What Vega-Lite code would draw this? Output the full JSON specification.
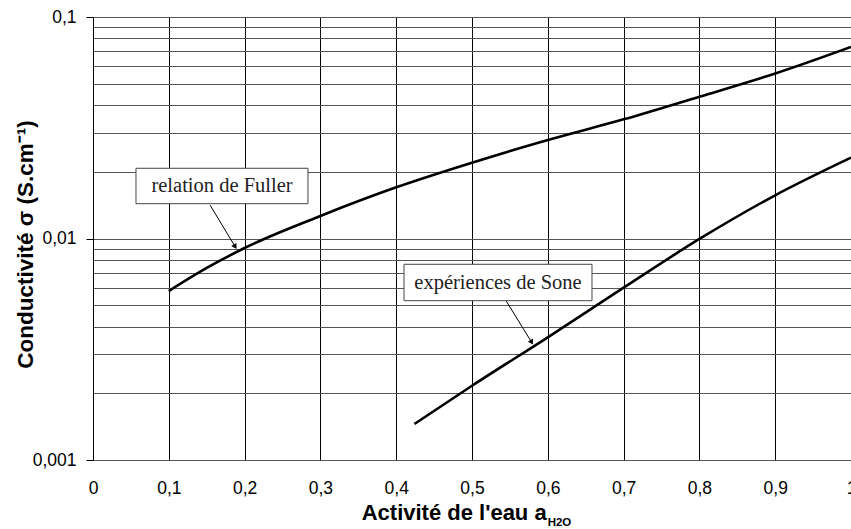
{
  "$schema": "https://vega.github.io/schema/vega-lite/v6.json",
  "width": 758,
  "height": 443,
  "autosize": {"type": "none"},
  "padding": {"left": 93, "top": 17, "right": 0, "bottom": 69},
  "background": "white",
  "config": {
    "view": {"stroke": null},
    "font": "Liberation Sans"
  },
  "datasets": {
    "curves": [
      {"series": "Fuller", "x": 0.1, "y": 0.00579},
      {"series": "Fuller", "x": 0.15, "y": 0.00736},
      {"series": "Fuller", "x": 0.2, "y": 0.00906},
      {"series": "Fuller", "x": 0.3, "y": 0.01264},
      {"series": "Fuller", "x": 0.4, "y": 0.01702},
      {"series": "Fuller", "x": 0.5, "y": 0.02199},
      {"series": "Fuller", "x": 0.6, "y": 0.02784},
      {"series": "Fuller", "x": 0.7, "y": 0.0345},
      {"series": "Fuller", "x": 0.8, "y": 0.04367},
      {"series": "Fuller", "x": 0.9, "y": 0.0556},
      {"series": "Fuller", "x": 1.0, "y": 0.0733},
      {"series": "Sone", "x": 0.424, "y": 0.001454},
      {"series": "Sone", "x": 0.5, "y": 0.002164},
      {"series": "Sone", "x": 0.6, "y": 0.003581},
      {"series": "Sone", "x": 0.7, "y": 0.005996},
      {"series": "Sone", "x": 0.8, "y": 0.00995},
      {"series": "Sone", "x": 0.9, "y": 0.01567},
      {"series": "Sone", "x": 1.0, "y": 0.02317}
    ],
    "notes": [
      {"label": "relation de Fuller", "x": 0.0567, "xe": 0.2836, "y": 0.01436, "ye": 0.02075, "tx": 0.1702, "ty": 0.01726, "ax": 0.1544, "ay": 0.01416, "bx": 0.1876, "by": 0.00918, "angle": 148.9},
      {"label": "expériences de Sone", "x": 0.4103, "xe": 0.6583, "y": 0.005238, "ye": 0.007648, "tx": 0.5343, "ty": 0.006328, "ax": 0.5449, "ay": 0.005238, "bx": 0.5788, "by": 0.003396, "angle": 148.4}
    ],
    "xtitle": [
      {"main": "Activité de l'eau a", "sub": "H2O", "x": 0.5985, "y": 0.001}
    ]
  },
  "layer": [
    {
      "data": {"name": "curves"},
      "mark": {"type": "line", "color": "black", "strokeWidth": 2.6, "interpolate": "monotone"},
      "encoding": {
        "x": {
          "field": "x", "type": "quantitative",
          "scale": {"domain": [0, 1], "nice": false, "zero": false},
          "axis": {
            "title": null,
            "values": [0, 0.1, 0.2, 0.3, 0.4, 0.5, 0.6, 0.7, 0.8, 0.9, 1],
            "labelExpr": "replace(format(datum.value, '.1~f'), '.', ',')",
            "grid": true, "gridColor": "black", "gridWidth": 1, "gridOpacity": 1,
            "ticks": false,
            "domain": true, "domainColor": "#555", "domainWidth": 1,
            "labelFont": "Liberation Sans", "labelFontSize": 17.5, "labelColor": "black",
            "labelPadding": 28, "labelBaseline": "middle", "labelFlush": false, "labelOverlap": false
          }
        },
        "y": {
          "field": "y", "type": "quantitative",
          "scale": {"type": "log", "domain": [0.001, 0.1], "nice": false},
          "axis": {
            "title": "Conductivité σ (S.cm⁻¹)",
            "titleFont": "Liberation Sans", "titleFontSize": 22.5, "titleFontWeight": "bold", "titleColor": "black",
            "titleAngle": -90, "titleBaseline": "middle", "titleAlign": "center",
            "titleX": -68, "titleY": 227,
            "values": [0.001, 0.002, 0.003, 0.004, 0.005, 0.006, 0.007, 0.008, 0.009, 0.01, 0.02, 0.03, 0.04, 0.05, 0.06, 0.07, 0.08, 0.09, 0.1],
            "labelExpr": "datum.value == 0.1 ? '0,1' : (datum.value == 0.01 ? '0,01' : (datum.value == 0.001 ? '0,001' : ''))",
            "grid": true, "gridColor": "#555", "gridWidth": 1, "gridOpacity": 1,
            "ticks": true, "tickSize": 7, "tickColor": "black",
            "tickOpacity": {"condition": {"test": "datum.value == 0.1 || datum.value == 0.01 || datum.value == 0.001", "value": 1}, "value": 0},
            "domain": true, "domainColor": "black", "domainWidth": 1,
            "labelFont": "Liberation Sans", "labelFontSize": 17.5, "labelColor": "black",
            "labelPadding": 10, "labelFlush": false, "labelOverlap": false
          }
        },
        "detail": {"field": "series", "type": "nominal"}
      }
    },
    {
      "data": {"name": "notes"},
      "mark": {"type": "rule", "color": "black", "strokeWidth": 1},
      "encoding": {
        "x": {"field": "ax", "type": "quantitative"},
        "y": {"field": "ay", "type": "quantitative"},
        "x2": {"field": "bx"},
        "y2": {"field": "by"}
      }
    },
    {
      "data": {"name": "notes"},
      "mark": {"type": "point", "shape": "triangle-up", "filled": true, "color": "black", "size": 36, "opacity": 1},
      "encoding": {
        "x": {"field": "bx", "type": "quantitative"},
        "y": {"field": "by", "type": "quantitative"},
        "angle": {"field": "angle", "type": "quantitative", "scale": null}
      }
    },
    {
      "data": {"name": "notes"},
      "mark": {"type": "rect", "fill": "white", "stroke": "#444", "strokeWidth": 1},
      "encoding": {
        "x": {"field": "x", "type": "quantitative"},
        "x2": {"field": "xe"},
        "y": {"field": "y", "type": "quantitative"},
        "y2": {"field": "ye"}
      }
    },
    {
      "data": {"name": "notes"},
      "mark": {"type": "text", "font": "Liberation Serif", "fontSize": 20.5, "color": "#222", "align": "center", "baseline": "middle"},
      "encoding": {
        "x": {"field": "tx", "type": "quantitative"},
        "y": {"field": "ty", "type": "quantitative"},
        "text": {"field": "label"}
      }
    },
    {
      "data": {"name": "xtitle"},
      "mark": {"type": "text", "font": "Liberation Sans", "fontSize": 22, "fontWeight": "bold", "color": "black", "align": "right", "baseline": "alphabetic", "dy": 60},
      "encoding": {
        "x": {"field": "x", "type": "quantitative"},
        "y": {"field": "y", "type": "quantitative"},
        "text": {"field": "main"}
      }
    },
    {
      "data": {"name": "xtitle"},
      "mark": {"type": "text", "font": "Liberation Sans", "fontSize": 11.5, "fontWeight": "bold", "color": "black", "align": "left", "baseline": "alphabetic", "dx": 1, "dy": 66},
      "encoding": {
        "x": {"field": "x", "type": "quantitative"},
        "y": {"field": "y", "type": "quantitative"},
        "text": {"field": "sub"}
      }
    }
  ]
}
